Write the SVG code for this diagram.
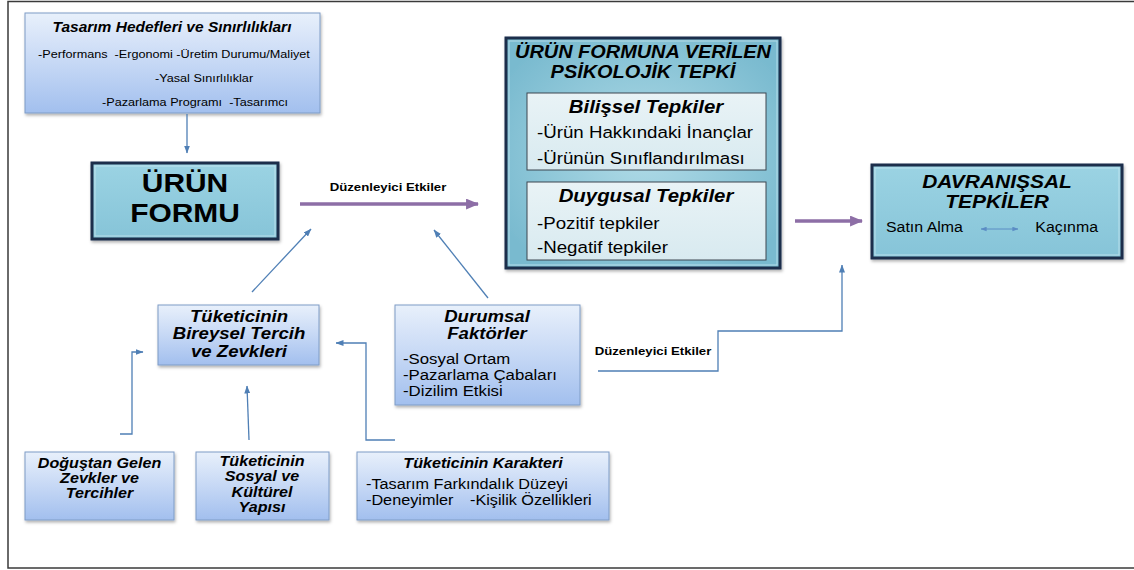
<svg xmlns="http://www.w3.org/2000/svg" width="1134" height="570" viewBox="0 0 1134 570">
<style>
.t{font-family:"Liberation Sans",Arial,sans-serif;fill:#000;white-space:pre}
.bi{font-weight:bold;font-style:italic}
.b{font-weight:bold}
.c{text-anchor:middle}
.e{text-anchor:end}
.blue{fill:url(#gBlue);stroke:#7f9cc6;stroke-width:1}
.teal{stroke:#1b2f4b;stroke-width:3}
.hl{fill:none;stroke:#cdeaf2;stroke-width:1;opacity:.7}
.inner{fill:url(#gInner);stroke:#3c4650;stroke-width:1}
.conn{fill:none;stroke:#4f7fb5;stroke-width:1.3}
.purple{fill:none;stroke:#8d6ea6;stroke-width:3.5}
</style>
<defs>
<linearGradient id="gBlue" x1="0" y1="0" x2="0" y2="1">
<stop offset="0" stop-color="#e8f0fb"/>
<stop offset="0.5" stop-color="#c6d8f5"/>
<stop offset="1" stop-color="#a2bfee"/>
</linearGradient>
<linearGradient id="gTeal" x1="0" y1="0" x2="0" y2="1">
<stop offset="0" stop-color="#9bd3e3"/>
<stop offset="1" stop-color="#86c4d8"/>
</linearGradient>
<radialGradient id="rTeal" cx="0.5" cy="0.5" r="0.6">
<stop offset="0" stop-color="#b0dbe7"/>
<stop offset="1" stop-color="#79bacf"/>
</radialGradient>
<linearGradient id="gInner" x1="0" y1="0" x2="0" y2="1">
<stop offset="0" stop-color="#e9f3f6"/>
<stop offset="1" stop-color="#d8eaf0"/>
</linearGradient>
<filter id="sh" x="-10%" y="-10%" width="120%" height="130%">
<feDropShadow dx="1" dy="2" stdDeviation="1.5" flood-color="#000" flood-opacity="0.3"/>
</filter>
<marker id="ah" viewBox="0 0 8 6" refX="7.5" refY="3" markerWidth="8" markerHeight="6" markerUnits="userSpaceOnUse" orient="auto">
<path d="M0,0 L8,3 L0,6 z" fill="#4f7fb5"/>
</marker>
<marker id="ahs" viewBox="0 0 8 6" refX="7.5" refY="3" markerWidth="6" markerHeight="5" markerUnits="userSpaceOnUse" orient="auto-start-reverse">
<path d="M0,0 L8,3 L0,6 z" fill="#5b8cc4"/>
</marker>
<marker id="ap" viewBox="0 0 12 10" refX="11" refY="5" markerWidth="13" markerHeight="11" markerUnits="userSpaceOnUse" orient="auto">
<path d="M0,0 L12,5 L0,10 z" fill="#8d6ea6"/>
</marker>
</defs>
<rect x="0" y="0" width="1134" height="570" fill="#fff"/>
<rect x="8" y="1.5" width="1140" height="566.5" fill="none" stroke="#3a3a3a" stroke-width="1.5"/>

<g id="tasarim-hedefleri">
<rect class="blue" x="25" y="13" width="295" height="100" filter="url(#sh)"/>
<text class="t bi c" font-size="15.5" transform="translate(172,32)">Tasarım Hedefleri ve Sınırlılıkları</text>
<text class="t" font-size="11.5" transform="translate(38,58) scale(1.1,1)">-Performans  -Ergonomi -Üretim Durumu/Maliyet</text>
<text class="t" font-size="11.5" transform="translate(155,82) scale(1.1,1)">-Yasal Sınırlılıklar</text>
<text class="t" font-size="11.5" transform="translate(102,106) scale(1.1,1)">-Pazarlama Programı  -Tasarımcı</text>
</g>

<g id="urun-formu">
<rect class="teal" x="92" y="163" width="186" height="76" fill="url(#gTeal)" filter="url(#sh)"/>
<rect class="hl" x="95" y="166" width="180" height="70"/>
<text class="t b c" font-size="26.5" transform="translate(185,192) scale(1.13,1)"><tspan x="0" y="0">ÜRÜN</tspan><tspan x="0" y="30">FORMU</tspan></text>
</g>

<g id="psikolojik-tepki">
<rect class="teal" x="506" y="38" width="274" height="230" fill="url(#rTeal)" filter="url(#sh)"/>
<rect class="hl" x="509" y="41" width="268" height="224"/>
<text class="t bi c" font-size="17.8" transform="translate(643,58) scale(1.12,1)"><tspan x="0" y="0">ÜRÜN FORMUNA VERİLEN</tspan><tspan x="0" y="20">PSİKOLOJİK TEPKİ</tspan></text>
<g id="bilissel-tepkiler">
<rect class="inner" x="527" y="93" width="239" height="77"/>
<text class="t bi c" font-size="18.2" transform="translate(646,113) scale(1.12,1)">Bilişsel Tepkiler</text>
<text class="t" font-size="16.7" transform="translate(537,138) scale(1.12,1)"><tspan x="0" y="0">-Ürün Hakkındaki İnançlar</tspan><tspan x="0" y="26">-Ürünün Sınıflandırılması</tspan></text>
</g>
<g id="duygusal-tepkiler">
<rect class="inner" x="527" y="182" width="239" height="78"/>
<text class="t bi c" font-size="18.2" transform="translate(646,202) scale(1.12,1)">Duygusal Tepkiler</text>
<text class="t" font-size="16.7" transform="translate(537,229) scale(1.12,1)"><tspan x="0" y="0">-Pozitif tepkiler</tspan><tspan x="0" y="24">-Negatif tepkiler</tspan></text>
</g>
</g>

<g id="davranissal-tepkiler">
<rect class="teal" x="872" y="165" width="250" height="93" fill="url(#gTeal)" filter="url(#sh)"/>
<rect class="hl" x="875" y="168" width="244" height="87"/>
<text class="t bi c" font-size="18.7" transform="translate(997,188) scale(1.12,1)"><tspan x="0" y="0">DAVRANIŞSAL</tspan><tspan x="0" y="20">TEPKİLER</tspan></text>
<text class="t" font-size="14.2" transform="translate(886,232) scale(1.12,1)">Satın Alma</text>
<text class="t e" font-size="14.2" transform="translate(1098,232) scale(1.12,1)">Kaçınma</text>
</g>

<g id="bireysel-tercih">
<rect class="blue" x="158" y="305" width="161" height="60" filter="url(#sh)"/>
<text class="t bi c" font-size="16.6" transform="translate(239,322) scale(1.12,1)"><tspan x="0" y="0">Tüketicinin</tspan><tspan x="0" y="17.5">Bireysel Tercih</tspan><tspan x="0" y="35">ve Zevkleri</tspan></text>
</g>

<g id="durumsal-faktorler">
<rect class="blue" x="395" y="305" width="185" height="100" filter="url(#sh)"/>
<text class="t bi c" font-size="16.6" transform="translate(487,322) scale(1.12,1)"><tspan x="0" y="0">Durumsal</tspan><tspan x="0" y="17.5">Faktörler</tspan></text>
<text class="t" font-size="15" transform="translate(403,364) scale(1.12,1)"><tspan x="0" y="0">-Sosyal Ortam</tspan><tspan x="0" y="16.5">-Pazarlama Çabaları</tspan><tspan x="0" y="32.5">-Dizilim Etkisi</tspan></text>
</g>

<g id="dogustan-gelen">
<rect class="blue" x="25" y="452" width="149" height="68" filter="url(#sh)"/>
<text class="t bi c" font-size="14.4" transform="translate(99.5,468) scale(1.12,1)"><tspan x="0" y="0">Doğuştan Gelen</tspan><tspan x="0" y="15">Zevkler ve</tspan><tspan x="0" y="30">Tercihler</tspan></text>
</g>

<g id="sosyal-kulturel">
<rect class="blue" x="196" y="452" width="133" height="68" filter="url(#sh)"/>
<text class="t bi c" font-size="14.4" transform="translate(262,466) scale(1.12,1)"><tspan x="0" y="0">Tüketicinin</tspan><tspan x="0" y="15.5">Sosyal ve</tspan><tspan x="0" y="31">Kültürel</tspan><tspan x="0" y="46.5">Yapısı</tspan></text>
</g>

<g id="tuketici-karakteri">
<rect class="blue" x="357" y="452" width="252" height="68" filter="url(#sh)"/>
<text class="t bi c" font-size="14.4" transform="translate(483,468) scale(1.12,1)">Tüketicinin Karakteri</text>
<text class="t" font-size="14.5" transform="translate(366,489) scale(1.12,1)">-Tasarım Farkındalık Düzeyi</text>
<text class="t" font-size="14.5" transform="translate(366,505) scale(1.12,1)">-Deneyimler</text>
<text class="t" font-size="14.5" transform="translate(470,505) scale(1.12,1)">-Kişilik Özellikleri</text>
</g>

<g id="connectors">
<path class="conn" d="M187,114 V153" marker-end="url(#ah)"/>
<path class="purple" d="M300,204 H478" marker-end="url(#ap)"/>
<text class="t b c" font-size="11.8" transform="translate(388,191) scale(1.12,1)">Düzenleyici Etkiler</text>
<path class="purple" d="M795,221 H862" marker-end="url(#ap)"/>
<path class="conn" d="M252,292 L311,229" marker-end="url(#ah)"/>
<path class="conn" d="M488,298 L434,230" marker-end="url(#ah)"/>
<path class="conn" d="M598,371 H718 V331 H842 V265" marker-end="url(#ah)"/>
<text class="t b c" font-size="11.8" transform="translate(653,355) scale(1.12,1)">Düzenleyici Etkiler</text>
<path class="conn" d="M120,434 H132 V352 H143" marker-end="url(#ah)"/>
<path class="conn" d="M249,440 L247,386" marker-end="url(#ah)"/>
<path class="conn" d="M395,440 H366 V343 H336" marker-end="url(#ah)"/>
<path fill="none" stroke="#5b8cc4" stroke-width="1" d="M981,229 H1018" marker-start="url(#ahs)" marker-end="url(#ahs)"/>
</g>
</svg>
